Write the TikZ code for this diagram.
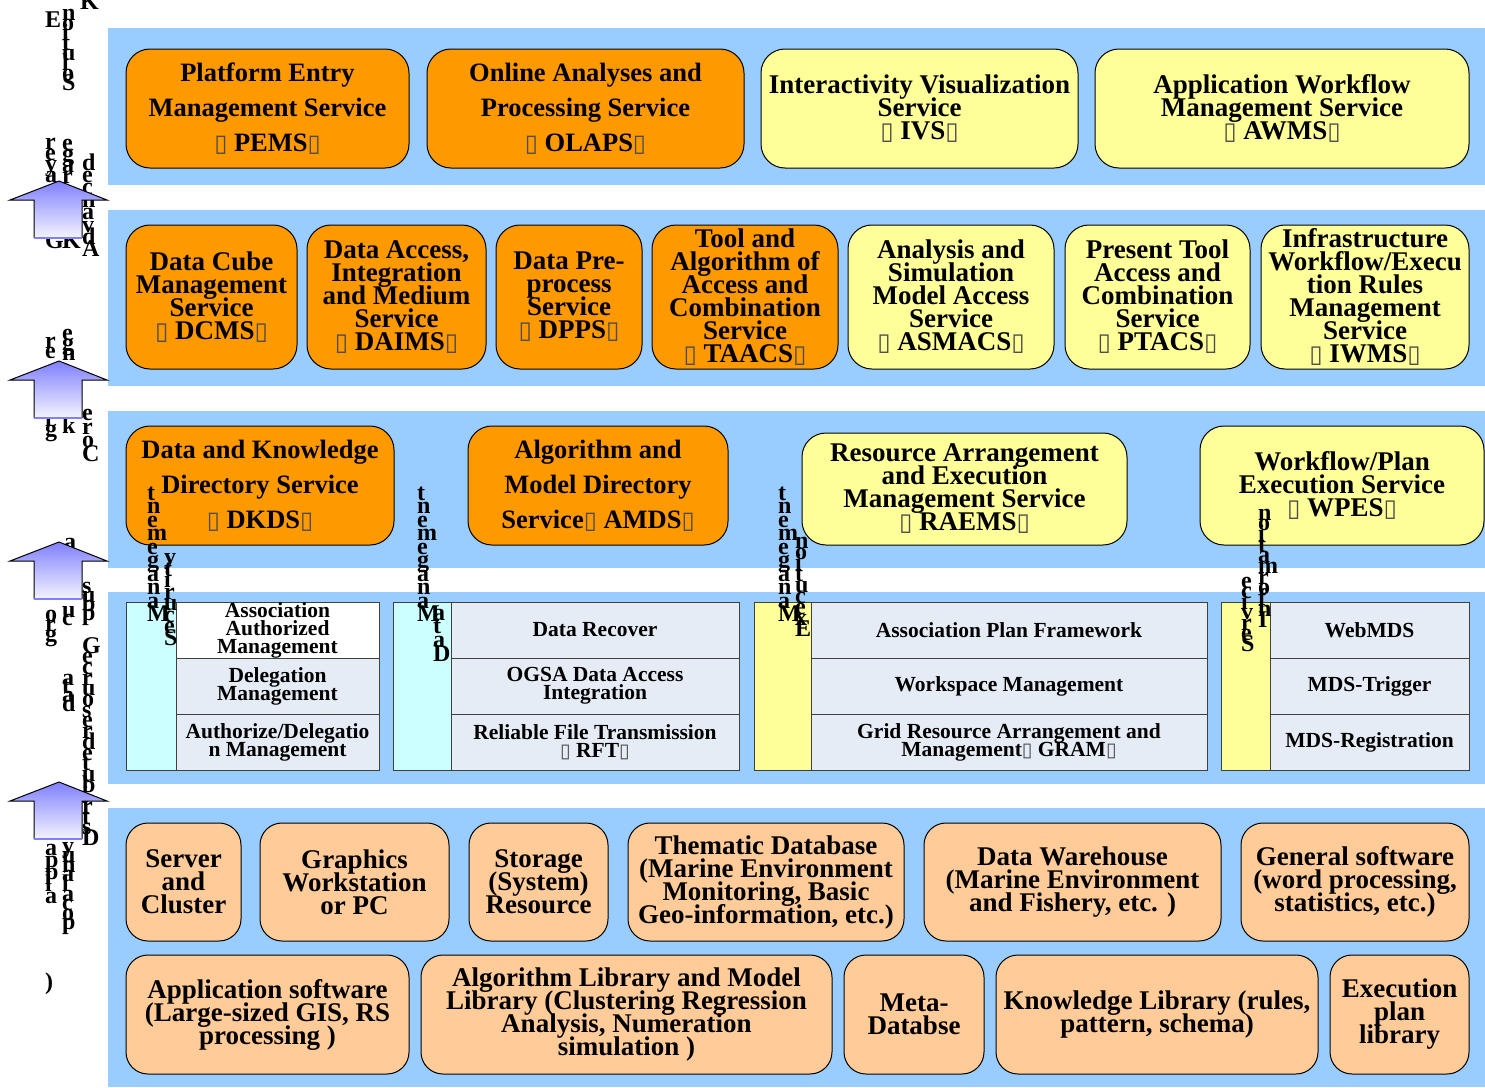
\documentclass[tikz,border=0pt]{standalone}
\usepackage{fontspec}
\setmainfont{Liberation Serif}
\newfontfamily\dejavu{DejaVu Sans}

\definecolor{bandblue}{HTML}{99CCFF}
\definecolor{orng}{HTML}{FF9900}
\definecolor{yel}{HTML}{FFFF99}
\definecolor{peach}{HTML}{FFCC99}
\definecolor{cyancell}{HTML}{CCFFFF}
\definecolor{cellbg}{HTML}{E6ECF6}
\definecolor{arrtop}{HTML}{8080FF}
\definecolor{arrbot}{HTML}{F4F4FF}
\definecolor{arredge}{HTML}{7F7FFF}

% missing-glyph box as printed in the service names
\newcommand\tofu{\textcolor{black!70}{\scalebox{0.9}{\dejavu\mdseries ▯}}}

% fixed line distance, even where lines would touch
\newcommand\tightlines{\lineskiplimit=-100pt\lineskip=0pt}

% box given by its corners: style, name, x1, y1, x2, y2, text
\newcommand\pbox[7]{\node[#1, minimum width={#5-#3}, minimum height={#6-#4}] (#2) at ({(#3+#5)/2},{(#4+#6)/2}) {#7};}

% a column of upright letters, one under the other: name, x, first baseline, spacing, letters
\newcommand\vcol[5]{\foreach \c [count=\i from 0] in {#5} \node[vlet] (#1-\i) at (#2,{#3+\i*#4}) {\c};}

% block arrow pointing up, tip at height #1
\newcommand\uparr[1]{%
  \shade[top color=arrtop, bottom color=arrbot]
    (59,#1) -- (107,{#1+19}) -- (82,{#1+19}) -- (82,{#1+57}) -- (34,{#1+57}) -- (34,{#1+19}) -- (10,{#1+19}) -- cycle;
  \draw[line width=1pt, line join=miter]
    (34,{#1+57}) -- (34,{#1+19}) -- (10,{#1+19}) -- (59,#1) -- (107,{#1+19}) -- (82,{#1+19}) -- (82,{#1+57});
  \draw[arredge, line width=1.6pt] (34,{#1+57}) -- (82,{#1+57});}

\begin{document}
\begin{tikzpicture}[x=1pt, y=-1pt,
  band/.style={fill=bandblue, draw=none},
  svcL/.style={draw=black, line width=1pt, rounded corners=24pt, inner sep=0pt, align=center,
               font=\bfseries\fontsize{26.5}{35}\selectfont\tightlines},
  svcT/.style={draw=black, line width=1pt, rounded corners=24pt, inner sep=0pt, align=center,
               font=\bfseries\fontsize{27}{23}\selectfont\tightlines},
  resbox/.style={svcT, fill=peach, rounded corners=22pt},
  cell/.style={draw=black!75, line width=1pt, fill=cellbg, inner sep=0pt, align=center,
               font=\bfseries\fontsize{21.5}{18}\selectfont\tightlines},
  side/.style={draw=black!75, line width=1pt, inner sep=0pt},
  vlet/.style={anchor=base west, inner sep=0pt, font=\bfseries\fontsize{24}{24}\selectfont}]

\useasboundingbox (0,0) rectangle (1485,1087);
\fill[white] (0,0) rectangle (1485,1087);

% ---------- layer bands ----------
\fill[band] (108,28)  rectangle (1485,185);
\fill[band] (108,210) rectangle (1485,386);
\fill[band] (108,411) rectangle (1485,568);
\fill[band] (108,592) rectangle (1485,784);
\fill[band] (108,808) rectangle (1485,1087);

% ---------- application services ----------
\pbox{svcL, fill=orng}{pems}{126}{49}{409}{168}{Platform Entry\\Management Service\\\tofu{} PEMS\tofu}
\pbox{svcL, fill=orng}{olaps}{427}{49}{744}{168}{Online Analyses and\\Processing Service\\\tofu{} OLAPS\tofu}
\pbox{svcT, fill=yel}{ivs}{761}{49}{1078}{168}{Interactivity Visualization\\Service\\\tofu{} IVS\tofu}
\pbox{svcT, fill=yel}{awms}{1095}{49}{1469}{168}{Application Workflow\\Management Service\\\tofu{} AWMS\tofu}

% ---------- advanced services ----------
\pbox{svcT, fill=orng}{dcms}{126}{225}{297}{369}{Data Cube\\Management\\Service\\\tofu{} DCMS\tofu}
\pbox{svcT, fill=orng}{daims}{307}{225}{486}{369}{Data Access,\\Integration\\and Medium\\Service\\\tofu{} DAIMS\tofu}
\pbox{svcT, fill=orng}{dpps}{496}{225}{642}{369}{Data Pre-\\process\\Service\\\tofu{} DPPS\tofu}
\pbox{svcT, fill=orng}{taacs}{652}{225}{838}{369}{Tool and\\Algorithm of\\Access and\\Combination\\Service\\\tofu{} TAACS\tofu}
\pbox{svcT, fill=yel}{asmacs}{848}{225}{1054}{369}{Analysis and\\Simulation\\Model Access\\Service\\\tofu{} ASMACS\tofu}
\pbox{svcT, fill=yel}{ptacs}{1065}{225}{1250}{369}{Present Tool\\Access and\\Combination\\Service\\\tofu{} PTACS\tofu}
\pbox{svcT, fill=yel}{iwms}{1261}{225}{1469}{369}{Infrastructure\\Workflow/Execu\\tion Rules\\Management\\Service\\\tofu{} IWMS\tofu}

% ---------- core services ----------
\pbox{svcL, fill=orng}{dkds}{126}{426}{394}{545}{Data and Knowledge\\Directory Service\\\tofu{} DKDS\tofu}
\pbox{svcL, fill=orng}{amds}{468}{426}{728}{545}{Algorithm and\\Model Directory\\Service\tofu{} AMDS\tofu}
\pbox{svcT, fill=yel}{raems}{802}{433}{1127}{545}{Resource Arrangement\\and Execution\\Management Service\\\tofu{} RAEMS\tofu}
\pbox{svcT, fill=yel}{wpes}{1200}{426}{1484}{545}{Workflow/Plan\\Execution Service\\\tofu{} WPES\tofu}

% ---------- grid middleware ----------
\pbox{side, fill=cyancell}{secside}{126}{602}{176}{770}{}
\pbox{cell, fill=white}{sec1}{176}{602}{379}{658}{Association\\Authorized\\Management}
\pbox{cell}{sec2}{176}{658}{379}{714}{Delegation\\Management}
\pbox{cell}{sec3}{176}{714}{379}{770}{Authorize/Delegatio\\n Management}

\pbox{side, fill=cyancell}{datside}{393}{602}{451}{770}{}
\pbox{cell}{dat1}{451}{602}{739}{658}{Data Recover}
\pbox{cell}{dat2}{451}{658}{739}{714}{OGSA Data Access\\Integration}
\pbox{cell}{dat3}{451}{714}{739}{770}{Reliable File Transmission\\\tofu{} RFT\tofu}

\pbox{side, fill=yel}{exeside}{754}{602}{811}{770}{}
\pbox{cell}{exe1}{811}{602}{1207}{658}{Association Plan Framework}
\pbox{cell}{exe2}{811}{658}{1207}{714}{Workspace Management}
\pbox{cell}{exe3}{811}{714}{1207}{770}{Grid Resource Arrangement and\\Management\tofu{} GRAM\tofu}

\pbox{side, fill=yel}{infside}{1221}{602}{1270}{770}{}
\pbox{cell}{inf1}{1270}{602}{1469}{658}{WebMDS}
\pbox{cell}{inf2}{1270}{658}{1469}{714}{MDS-Trigger}
\pbox{cell}{inf3}{1270}{714}{1469}{770}{MDS-Registration}

% ---------- distributed resources ----------
\pbox{resbox}{server}{126}{823}{241}{941}{Server\\and\\Cluster}
\pbox{resbox}{graph}{260}{823}{449}{941}{Graphics\\Workstation\\or PC}
\pbox{resbox}{storage}{469}{823}{608}{941}{Storage\\(System)\\Resource}
\pbox{resbox}{thematic}{628}{823}{904}{941}{Thematic Database\\(Marine Environment\\Monitoring, Basic\\Geo-information, etc.)}
\pbox{resbox}{warehouse}{924}{823}{1221}{941}{Data Warehouse\\(Marine Environment\\and Fishery, etc. )}
\pbox{resbox}{general}{1241}{823}{1469}{941}{General software\\(word processing,\\statistics, etc.)}
\pbox{resbox}{appsw}{126}{955}{409}{1074}{Application software\\(Large-sized GIS, RS\\processing )}
\pbox{resbox}{alglib}{421}{955}{832}{1074}{Algorithm Library and Model\\Library (Clustering Regression\\Analysis, Numeration\\simulation )}
\pbox{resbox}{metadb}{844}{955}{984}{1074}{Meta-\\Databse}
\pbox{resbox}{knowlib}{996}{955}{1318}{1074}{Knowledge Library (rules,\\pattern, schema)}
\pbox{resbox}{execlib}{1330}{955}{1469}{1074}{Execution\\plan\\library}

% ---------- upright letter columns of the middleware groups ----------
\vcol{mgA}{147}{500}{13.5}{t,n,e,m,e,g,a,n,a,M}
\vcol{secA}{164}{564.5}{11.5}{y,t,i,r,u,c,e,S}
\vcol{mgB}{417}{500}{13.5}{t,n,e,m,e,g,a,n,a,M}
\vcol{datB}{433}{620}{13.7}{a,t,a,D}
\vcol{mgC}{778}{500}{13.5}{t,n,e,m,e,g,a,n,a,M}
\vcol{exeC}{795}{548}{11.1}{n,o,i,t,u,c,e,x,E}
\vcol{infD}{1258}{520}{10.7}{n,o,i,t,a,m,r,o,f,n,I}
\vcol{svD}{1241}{588}{10.5}{e,c,i,v,r,e,S}

% ---------- upright letter columns of the layer titles ----------
\node[vlet] (tE) at (45,27) {E};
\vcol{tA}{62}{20}{10}{n,o,i,t,u,l,o,S}
\node[vlet] (tK) at (80,9) {K};

\vcol{tB1}{45}{149}{11}{r,e,y,a}
\node[vlet] (tBG) at (45,248) {G};
\vcol{tB2}{62}{150}{11}{e,g,a,r}
\node[vlet] (tBK) at (62,248) {K};
\vcol{tB3}{82}{170}{12.4}{d,e,c,n,a,v,d,A}

\vcol{tC1}{45}{348}{10}{r,e}
\vcol{tC1b}{45}{426}{10}{i,g}
\vcol{tC2}{62}{340}{10}{e,g,n}
\node[vlet] (tCk) at (62,433) {k};
\vcol{tC3}{82}{420.5}{13.5}{e,r,o,C}

\node[vlet] (tDa) at (64,549) {a};
\vcol{tD1}{45}{621}{10}{o,r,g}
\vcol{tD2}{62}{617}{8}{u,c}
\vcol{tD2b}{62}{685}{8.7}{a,t,a,d}
\vcol{tD3}{82}{593}{9}{s,u,b,p}
\vcol{tD3b}{82}{653}{10.7}{G,e,c,r,u,o,s,e,r,d,e,t,u,b,i,r,t,s,D}

\vcol{tE1}{45}{855}{12}{a,p,p,l,a}
\vcol{tE2}{62}{853}{9.6}{y,u,n,a,l,a,c,o,p}
\node[vlet] (tEp) at (45,989) {)};

% ---------- arrows between layers ----------
\uparr{181}
\uparr{361}
\uparr{542}
\uparr{782}

\end{tikzpicture}
\end{document}
